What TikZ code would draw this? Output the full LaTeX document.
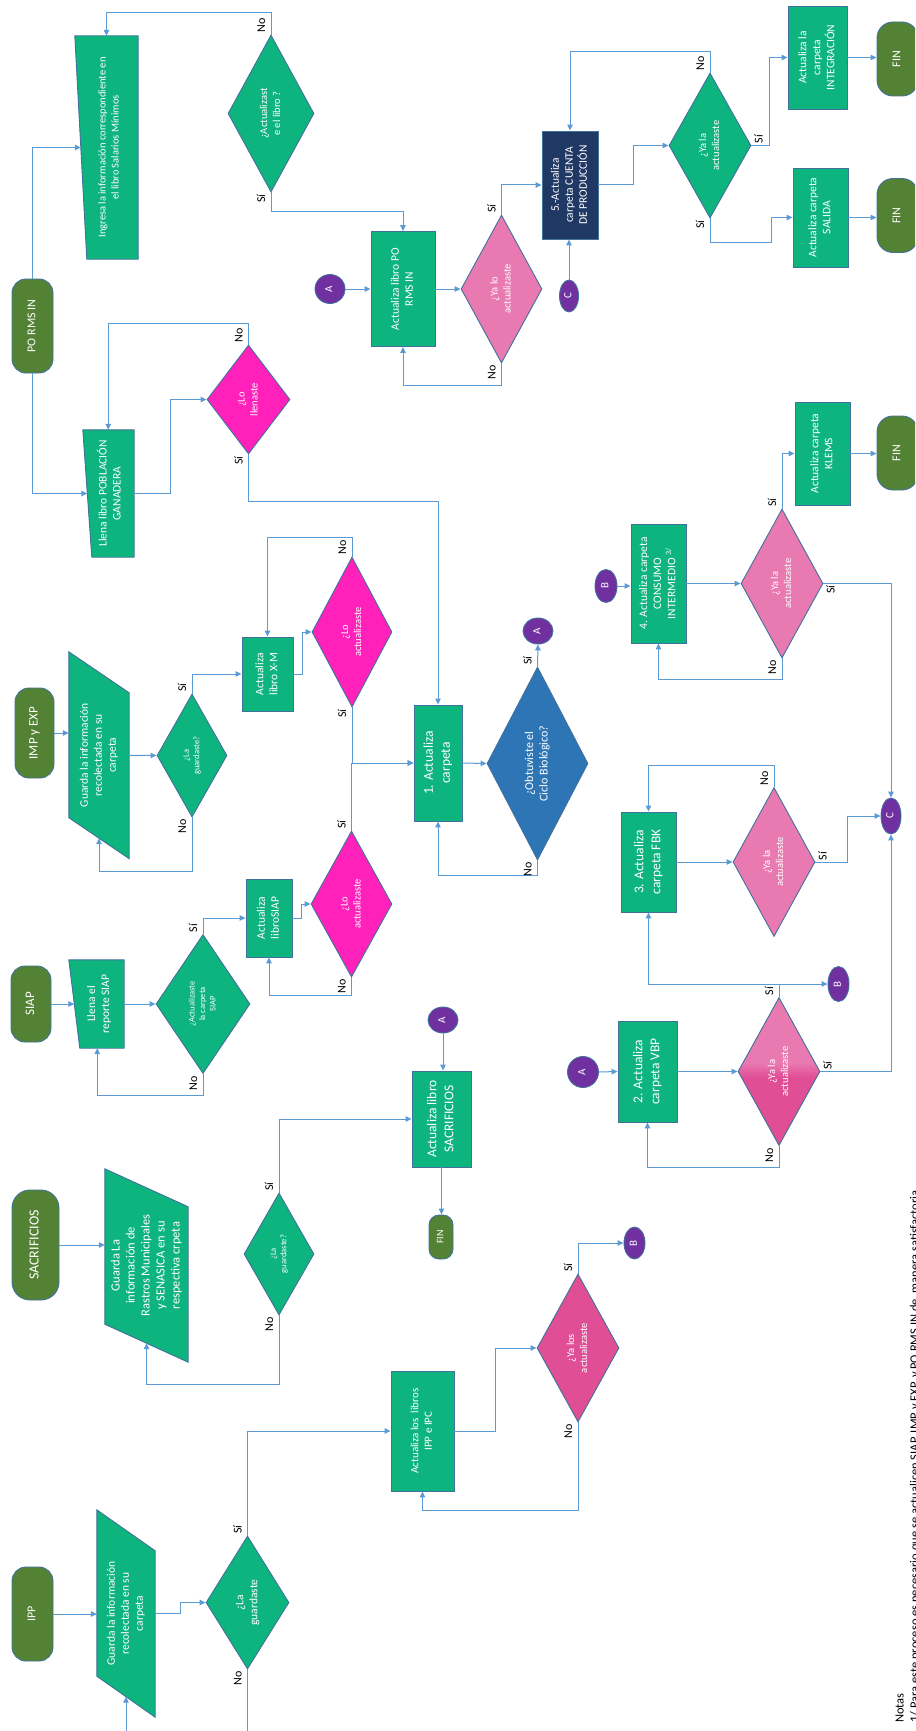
\documentclass[tikz,border=0pt]{standalone}
\usepackage{fontspec}
\setmainfont{Carlito}
\usepackage{graphicx}
\usetikzlibrary{arrows.meta, shapes.geometric, backgrounds}
\definecolor{verde}{RGB}{13,180,126}
\definecolor{olivo}{RGB}{84,130,53}
\definecolor{borde}{RGB}{65,113,156}
\definecolor{linea}{RGB}{91,155,213}
\definecolor{fucsia}{RGB}{255,33,186}
\definecolor{rosa}{RGB}{233,122,177}
\definecolor{rosaosc}{RGB}{224,78,150}
\definecolor{azul}{RGB}{46,117,182}
\definecolor{marino}{RGB}{31,56,100}
\definecolor{morado}{RGB}{112,48,160}
\newcommand{\rt}[1]{\rotatebox{90}{\begin{tabular}{@{}c@{}}#1\end{tabular}}}
\pgfdeclareverticalshading{vbp}{100bp}{color(0bp)=(rosaosc); color(48bp)=(rosaosc); color(53bp)=(rosa); color(100bp)=(rosa)}

\begin{document}
\begin{tikzpicture}[x=1pt, y=-1pt,
        shp/.style={draw=borde, line width=0.9pt},
        term/.style={shp, rectangle, fill=olivo, text=white, inner sep=0pt, rounded corners=14pt,
                     font=\fontsize{12}{14}\selectfont},
        box/.style={shp, rectangle, fill=verde, text=white, inner sep=0pt, font=\fontsize{11.5}{14}\selectfont},
        big/.style={font=\fontsize{13.5}{17}\selectfont},
        entrada/.style={rectangle, inner sep=0pt, text=white, font=\fontsize{11.5}{14}\selectfont},
        dec/.style={shp, diamond, aspect=0.55, inner sep=0pt, fill=verde, text=white,
                    font=\fontsize{10.5}{13}\selectfont},
        decs/.style={font=\fontsize{8.5}{10.5}\selectfont},
        con/.style={shp, ellipse, fill=morado, text=white, inner sep=0pt, font=\fontsize{11}{12}\selectfont},
        lnk/.style={draw=linea, line width=1pt, -{Triangle[length=6pt, width=5.5pt]}},
        lab/.style={inner sep=1.5pt, text=black, font=\fontsize{12}{13}\selectfont},
        lt/.style={lab, anchor=south east}, lb/.style={lab, anchor=north east},
        ra/.style={lab, anchor=south west}, rb/.style={lab, anchor=north west}]
    \useasboundingbox (0,0) rectangle (915,1731);
    \clip (0,0) rectangle (915,1731);

    % inicios y fines
    \node[term, minimum width=41pt, minimum height=94pt] (t1) at (32.5,326) {\rt{PO RMS IN}};
    \node[term, minimum width=39pt, minimum height=90pt, font=\fontsize{13}{15}\selectfont] (t2) at (34.5,733) {\rt{IMP y EXP}};
    \node[term, minimum width=40pt, minimum height=76pt, font=\fontsize{13}{15}\selectfont] (t3) at (31,1004) {\rt{SIAP}};
    \node[term, minimum width=47pt, minimum height=110pt, rounded corners=18pt, font=\fontsize{14}{16}\selectfont] (t4) at (35.5,1245) {\rt{SACRIFICIOS}};
    \node[term, minimum width=41pt, minimum height=94pt] (t5) at (32.5,1614) {\rt{IPP}};
    \node[term, minimum width=24pt, minimum height=44pt, rounded corners=10pt, font=\fontsize{10}{12}\selectfont] (f1) at (441,1237) {\rt{FIN}};
    \foreach \n/\y in {f2/59, f3/215.5, f4/453}
        \node[term, minimum width=41pt, minimum height=74pt, rounded corners=16pt] (\n) at (897.5,\y) {\rt{FIN}};

    % entradas manuales y datos
    \node[entrada, minimum width=57pt, minimum height=223pt, font=\fontsize{10.5}{13}\selectfont] (m1) at (109.5,147.5) {\rt{Ingresa la información correspondiente en\\el libro Salarios Mínimos}};
    \node[entrada, minimum width=46.5pt, minimum height=127pt] (m2) at (110.75,493.5) {\rt{Llena libro POBLACIÓN\\GANADERA}};
    \node[entrada, minimum width=49.5pt, minimum height=88pt] (m3) at (99.25,1004) {\rt{Llena el\\reporte SIAP}};
    \node[entrada, minimum width=60pt, minimum height=165.5pt] (p1) at (99,755.25) {\rt{Guarda la información\\recolectada en su\\carpeta}};
    \node[entrada, minimum width=83pt, minimum height=155pt, font=\fontsize{12.5}{15}\selectfont] (p2) at (146.5,1265.5) {\rt{Guarda La\\información de\\Rastros Municipales\\y SENASICA en su\\respectiva crpeta}};
    \node[entrada, minimum width=58pt, minimum height=166pt] (p3) at (126,1613.5) {\rt{Guarda la información\\recolectada en su\\carpeta}};

    % procesos
    \node[box, minimum width=64pt, minimum height=115pt] (b1) at (403,289) {\rt{Actualiza libro PO\\RMS IN}};
    \node[box, minimum width=51pt, minimum height=74pt] (b2) at (267.5,674) {\rt{Actualiza\\libro X-M}};
    \node[box, minimum width=46pt, minimum height=78pt] (b3) at (269,918) {\rt{Actualiza\\libroSIAP}};
    \node[box, big, minimum width=48pt, minimum height=116pt] (b4) at (438,763) {\rt{1. Actualiza\\carpeta}};
    \node[box, big, minimum width=59pt, minimum height=96pt] (b5) at (441.5,1119) {\rt{Actualiza libro\\SACRIFICIOS}};
    \node[box, minimum width=63pt, minimum height=120pt, font=\fontsize{11}{13.5}\selectfont] (b6) at (422.5,1431) {\rt{Actualiza los\ \ libros\\IPP e IPC}};
    \node[box, big, minimum width=59pt, minimum height=101pt] (b7) at (647.5,1071.5) {\rt{2. Actualiza\\carpeta VBP}};
    \node[box, big, minimum width=55pt, minimum height=100pt] (b8) at (648.5,862) {\rt{3. Actualiza\\carpeta FBK}};
    \node[box, minimum width=55pt, minimum height=119pt] (b9) at (658.5,583.5) {\rt{4. Actualiza carpeta\\CONSUMO\\INTERMEDIO \textsuperscript{3/}}};
    \node[box, fill=marino, minimum width=56pt, minimum height=108pt] (b10) at (570,185) {\rt{5.-Actualiza\\carpeta CUENTA\\DE PRODUCCIÓN}};
    \node[box, minimum width=59pt, minimum height=103pt] (b11) at (817.5,57.5) {\rt{Actualiza la\\carpeta\\INTEGRACIÓN}};
    \node[box, minimum width=55pt, minimum height=99pt] (b12) at (820.5,217.5) {\rt{Actualiza carpeta\\SALIDA}};
    \node[box, minimum width=55pt, minimum height=103pt] (b13) at (822.5,453.5) {\rt{Actualiza carpeta\\KLEMS}};

    % decisiones
    \node[dec, minimum width=86pt, minimum height=157pt] (d1) at (271,113.5) {\rt{¿Actualizast\\e el libro ?}};
    \node[dec, fill=fucsia, minimum width=83pt, minimum height=109pt] (d2) at (248.5,399.5) {\rt{¿Lo\\llenaste}};
    \node[dec, fill=rosa, minimum width=81pt, minimum height=148pt] (d3) at (501.5,289) {\rt{¿Ya lo\\actualizaste}};
    \node[dec, minimum width=82pt, minimum height=145pt] (d4) at (710,145.5) {\rt{¿Ya la\\actualizaste}};
    \node[dec, decs, minimum width=70pt, minimum height=123pt] (d5) at (192,755.5) {\rt{¿La\\guardaste?}};
    \node[dec, fill=fucsia, minimum width=80pt, minimum height=150pt] (d6) at (352,632) {\rt{¿Lo\\actualizaste}};
    \node[dec, fill=fucsia, minimum width=81pt, minimum height=146pt] (d7) at (351.5,904) {\rt{¿Lo\\actualizaste}};
    \node[dec, fill=azul, minimum width=101pt, minimum height=193pt, font=\fontsize{12}{14.5}\selectfont] (d8) at (537.5,763.5) {\rt{¿Obtuviste el\\Ciclo Biológico?}};
    \node[dec, decs, minimum width=94pt, minimum height=139pt] (d9) at (203,1004) {\rt{¿Actualizaste\\la carpeta\\SIAP}};
    \node[dec, decs, minimum width=70pt, minimum height=122pt] (d10) at (279,1254) {\rt{¿La\\guardaste?}};
    \node[dec, minimum width=83pt, minimum height=133pt, font=\fontsize{11.5}{14}\selectfont] (d11) at (247.5,1602.5) {\rt{¿La\\guardaste}};
    \node[dec, fill=rosaosc, minimum width=82pt, minimum height=148pt] (d12) at (578,1348) {\rt{¿Ya los\\actualizaste}};
    \node[dec, shade, shading=vbp, minimum width=82pt, minimum height=148pt] (d13) at (779,1071.5) {\rt{¿Ya la\\actualizaste}};
    \node[dec, fill=rosa, minimum width=82pt, minimum height=149pt] (d14) at (774,862) {\rt{¿Ya la\\actualizaste}};
    \node[dec, fill=rosa, minimum width=82pt, minimum height=149pt] (d15) at (782,583.5) {\rt{¿Ya la\\actualizaste}};

    % conectores
    \node[con, minimum width=30pt, minimum height=29pt] (cA1) at (330,289) {\rt{A}};
    \node[con, minimum width=30pt, minimum height=26pt] (cA2) at (538,631) {\rt{A}};
    \node[con, minimum width=30pt, minimum height=26pt] (cA3) at (443,1020) {\rt{A}};
    \node[con, minimum width=31pt, minimum height=31pt] (cA4) at (583,1072) {\rt{A}};
    \node[con, minimum width=21pt, minimum height=32pt] (cB1) at (634.5,1243) {\rt{B}};
    \node[con, minimum width=21pt, minimum height=35pt] (cB2) at (838.5,984) {\rt{B}};
    \node[con, minimum width=22pt, minimum height=33pt] (cB3) at (606,586) {\rt{B}};
    \node[con, minimum width=19pt, minimum height=32pt] (cC1) at (569,296) {\rt{C}};
    \node[con, minimum width=20pt, minimum height=36pt] (cC2) at (891,816) {\rt{C}};

    \node[anchor=south west, inner sep=0pt, font=\fontsize{12.5}{15}\selectfont] (notas) at (893,1723)
        {\rotatebox{90}{\begin{tabular}{@{}l@{}}Notas\\1/ Para este proceso es necesario que se actualicen SIAP, IMP y EXP, y PO RMS IN de\ \ manera satisfactoria\end{tabular}}};

    \begin{scope}[on background layer]
        \foreach \m/\off in {m1/6, m2/4.5, m3/5.5}
            \filldraw[shp, fill=verde] ([xshift=-\off pt]\m.north west) -- (\m.north east) -- (\m.south east) -- ([xshift=\off pt]\m.south west) -- cycle;
        \foreach \p/\off in {p1/20.5, p2/19, p3/20.5}
            \filldraw[shp, fill=verde] ([yshift=\off pt]\p.north west) -- ([yshift=-\off pt]\p.north east) -- ([yshift=-\off pt]\p.south east) -- ([yshift=\off pt]\p.south west) -- cycle;
    \end{scope}

    % PO RMS IN
    \draw[lnk] (t1.north) |- (m1.west);
    \draw[lnk] (t1.south) |- (m2.west);
    \draw[lnk] (d1.north) node[lt] (s1) {\rt{No}} -- ++(0,-22) -| ([xshift=-3pt]m1.north);
    \draw[lnk] (d1.south) node[lb] (s2) {\rt{Sí}} -- ++(0,19) -| (b1.north);
    \draw[lnk] (m2.east) -- ++(36,0) |- (d2.west);
    \draw[lnk] (d2.north) node[lt] (s3) {\rt{No}} -- ++(0,-21) -| ([xshift=-2.5pt]m2.north);
    \draw[lnk] (d2.south) node[lb] (s4) {\rt{Sí}} -- ++(0,47) -| (b4.north);
    \draw[lnk] (cA1.east) -- (b1.west);
    \draw[lnk] (b1.east) -- (d3.west);
    \draw[lnk] (d3.north) node[lt] (s5) {\rt{Sí}} |- (b10.west);
    \draw[lnk] (d3.south) node[lb] (s6) {\rt{No}} -- ++(0,22) -| (b1.south);
    \draw[lnk] (cC1.north) -- (cC1.north |- b10.south);
    \draw[lnk] (b10.east) -- ++(35,0) |- (d4.west);
    \draw[lnk] (d4.north) node[lt] (s7) {\rt{No}} -- ++(0,-21) -| (b10.north);
    \draw[lnk] (d4.east) node[ra] (s8) {\rt{Sí}} -- ++(18,0) |- (b11.west);
    \draw[lnk] (d4.south) node[lb] (s9) {\rt{Sí}} -- ++(0,24) -| ([xshift=-21pt]b12.west) -- (b12.west);
    \foreach \a/\b in {b11/f2, b12/f3, b13/f4}
        \draw[lnk] (\a.east) -- (\a.east -| \b.west);

    % IMP y EXP
    \draw[lnk] (t2.east) -- (t2.east -| p1.west);
    \draw[lnk] (p1.east) -- (d5.west);
    \draw[lnk] (d5.north) node[lt] (s10) {\rt{Sí}} |- (b2.west);
    \draw[lnk] (d5.south) node[lb] (s11) {\rt{No}} -- ++(0,54) -| (p1.south);
    \draw[lnk] (b2.east) -- ++(9,0) |- (d6.west);
    \draw[lnk] (d6.north) node[lt] (s12) {\rt{No}} -- ++(0,-19) -| (b2.north);
    \draw[lnk] (d6.south) node[lb] (s13) {\rt{Sí}} |- (b4.west);
    \draw[lnk] (d7.north) node[lt] (s14) {\rt{Sí}} |- (b4.west);
    \draw[lnk] (b4.east) -- (d8.west);
    \draw[lnk] (d8.north) node[lt] (s15) {\rt{Sí}} -- (cA2.south);
    \draw[lnk] (d8.south) node[lb] (s16) {\rt{No}} -- ++(0,15) -| (b4.south);

    % SIAP
    \draw[lnk] (t3.east) -- (m3.west);
    \draw[lnk] (m3.east) -- (d9.west);
    \draw[lnk] (d9.north) node[lt] (s17) {\rt{Sí}} |- (b3.west);
    \draw[lnk] (d9.south) node[lb] (s18) {\rt{No}} -- ++(0,22) -| ([xshift=-2pt]m3.south);
    \draw[lnk] (b3.east) -- ++(9,0) |- (d7.west);
    \draw[lnk] (d7.south) node[lb] (s19) {\rt{No}} -- ++(0,18) -| (b3.south);

    % SACRIFICIOS
    \draw[lnk] (t4.east) -- (t4.east -| p2.west);
    \draw[lnk] (d10.north) node[lt] (s20) {\rt{Sí}} |- (b5.west);
    \draw[lnk] (d10.south) node[lb] (s21) {\rt{No}} -- ++(0,69) -| (p2.south);
    \draw[lnk] (cA3.south) -- (cA3.south |- b5.north);
    \draw[lnk] (b5.south) -- (b5.south |- f1.north);

    % IPP
    \draw[lnk] (t5.east) -- (t5.east -| p3.west);
    \draw[lnk] (p3.east) -- ++(25,0) |- (d11.west);
    \draw[lnk] (d11.north) node[lt] (s22) {\rt{Sí}} |- (b6.west);
    \draw[lnk] (d11.south) node[lb] (s23) {\rt{No}} -- ++(0,80) -| (p3.south);
    \draw[lnk] (b6.east) -- ++(41,0) |- (d12.west);
    \draw[lnk] (d12.south) node[lb] (s24) {\rt{No}} -- ++(0,88) -| (b6.south);
    \draw[lnk] (d12.north) node[lt] (s25) {\rt{Sí}} |- (cB1.west);

    % VBP, FBK y CONSUMO INTERMEDIO
    \draw[lnk] (cA4.east) -- (b7.west);
    \draw[lnk] (b7.east) -- (d13.west);
    \draw[lnk] (d13.south) node[lb] (s26) {\rt{No}} -- ++(0,22) -| (b7.south);
    \draw[lnk] (d13.north) node[lt] (s27) {\rt{Sí}} |- (cB2.west);
    \draw[lnk] (d13.north |- cB2.west) -| (b8.south);
    \draw[lnk] (d13.east) node[ra] (s28) {\rt{Sí}} -| (cC2.south);
    \draw[lnk] (b8.east) -- (d14.west);
    \draw[lnk] (d14.north) node[lt] (s29) {\rt{No}} -- ++(0,-22) -| (b8.north);
    \draw[lnk] (d14.east) node[ra] (s30) {\rt{Sí}} -- ++(32,0) |- (cC2.west);
    \draw[lnk] (cB3.east) -- (cB3.east -| b9.west);
    \draw[lnk] (b9.east) -- (d15.west);
    \draw[lnk] (d15.south) node[lb] (s31) {\rt{No}} -- ++(0,21) -| (b9.south);
    \draw[lnk] (d15.north) node[lt] (s32) {\rt{Sí}} |- (b13.west);
    \draw[lnk] (d15.east) node[rb] (s33) {\rt{Sí}} -| (cC2.north);
\end{tikzpicture}
\end{document}
